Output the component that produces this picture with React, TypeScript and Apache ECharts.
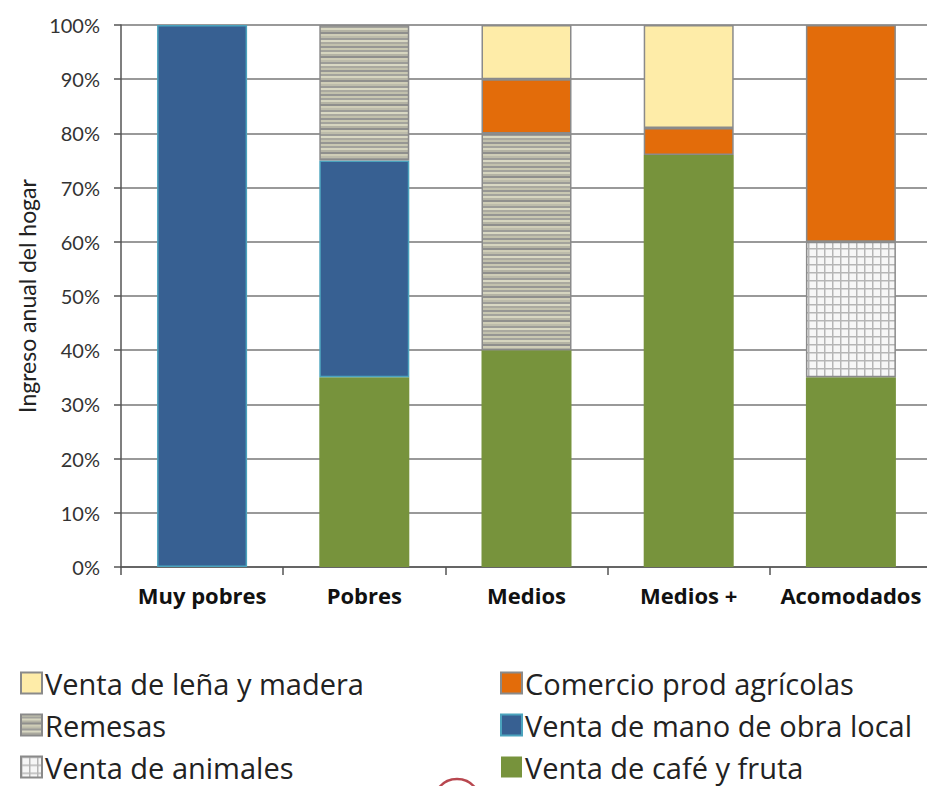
import React, { useEffect, useRef } from "react";
import * as echarts from "echarts";

const categories = ["Muy pobres", "Pobres", "Medios", "Medios +", "Acomodados"];
const cafe = [null, 35, 40, 76, 35];
const manoObra = [100, 40, null, null, null];
const animales = [null, null, null, null, 25];
const remesas = [null, 25, 40, null, null];
const comercio = [null, null, 10, 5, 40];
const lena = [null, null, 10, 19, null];
const yTicks = { min: 0, max: 100, interval: 10 };

const FONT = "Lato, 'Open Sans', sans-serif";
const WIDE = "'Open Sans', Lato, sans-serif";

function stripePattern(): HTMLCanvasElement {
  const rows = ["#c9c8b2", "#a3a39c", "#d6d5bf", "#b4b3a4", "#8f8f8d", "#cfcdb7", "#bdbcab", "#9c9c98", "#d9d8c3", "#aaa99f", "#c2c1ad", "#969693"];
  const c = document.createElement("canvas");
  c.width = 4;
  c.height = rows.length * 2;
  const ctx = c.getContext("2d")!;
  rows.forEach((col, i) => {
    ctx.fillStyle = col;
    ctx.fillRect(0, i * 2, 4, 2);
  });
  return c;
}

function gridPattern(): HTMLCanvasElement {
  const c = document.createElement("canvas");
  c.width = 8;
  c.height = 8;
  const ctx = c.getContext("2d")!;
  ctx.fillStyle = "#f6f6f6";
  ctx.fillRect(0, 0, 8, 8);
  ctx.fillStyle = "#b5b5b5";
  ctx.fillRect(0, 0, 8, 1.5);
  ctx.fillRect(0, 0, 1.5, 8);
  return c;
}

export default function App() {
  const ref = useRef<HTMLDivElement>(null);
  useEffect(() => {
    if (!ref.current) return;
    const chart = echarts.init(ref.current, null, { renderer: "svg" });
    const border = { borderColor: "#8a8a8a", borderWidth: 1.5 };
    const mk = (name: string, data: (number | null)[], itemStyle: any) => ({
      name,
      type: "bar",
      stack: "total",
      data,
      barWidth: 90,
      itemStyle,
    });
    const legendText = { fontFamily: WIDE, fontSize: 29, color: "#222", lineHeight: 30, padding: [0, 0, 0, -2] };
    chart.setOption({
      animation: false,
      textStyle: { fontFamily: FONT },
      grid: { left: 121, top: 25, width: 811, height: 542 },
      xAxis: {
        type: "category",
        data: categories,
        axisLine: { lineStyle: { color: "#555", width: 1.5 } },
        axisTick: { show: true, interval: 0, length: 8, lineStyle: { color: "#555", width: 1.5 } },
        axisLabel: { interval: 0, fontFamily: WIDE, fontWeight: "bold", fontSize: 22, color: "#111", margin: 17 },
      },
      yAxis: {
        type: "value",
        min: yTicks.min,
        max: yTicks.max,
        interval: yTicks.interval,
        name: "Ingreso anual del hogar",
        nameLocation: "middle",
        nameGap: 81,
        nameTextStyle: { fontFamily: FONT, fontSize: 23, color: "#222" },
        axisLine: { show: true, lineStyle: { color: "#555", width: 1.5 } },
        axisTick: { show: true, length: 7, lineStyle: { color: "#555", width: 1.5 } },
        axisLabel: { formatter: "{value}%", fontFamily: FONT, fontSize: 20, color: "#333", margin: 21 },
        splitLine: { show: true, lineStyle: { color: "#777", width: 1.5 } },
      },
      legend: [
        {
          orient: "vertical",
          left: 20,
          top: 668,
          padding: 0,
          itemGap: 12,
          itemWidth: 21,
          itemHeight: 21,
          icon: "rect",
          textStyle: legendText,
          data: ["Venta de leña y madera", "Remesas", "Venta de animales"],
        },
        {
          orient: "vertical",
          left: 500,
          top: 668,
          padding: 0,
          itemGap: 12,
          itemWidth: 21,
          itemHeight: 21,
          icon: "rect",
          textStyle: legendText,
          data: ["Comercio prod agrícolas", "Venta de mano de obra local", "Venta de café y fruta"],
        },
      ],
      graphic: [
        {
          type: "arc",
          shape: { cx: 457, cy: 802, r: 23, startAngle: -Math.PI * 0.82, endAngle: -Math.PI * 0.18 },
          style: { stroke: "#b8474f", lineWidth: 2.5, fill: "none" },
        },
      ],
      series: [
        mk("Venta de café y fruta", cafe, { color: "#77933c" }),
        mk("Venta de mano de obra local", manoObra, { color: "#376092", borderColor: "#4ba3bd", borderWidth: 1.5 }),
        mk("Venta de animales", animales, { color: { image: gridPattern(), repeat: "repeat" }, ...border }),
        mk("Remesas", remesas, { color: { image: stripePattern(), repeat: "repeat" }, ...border }),
        mk("Comercio prod agrícolas", comercio, { color: "#e36c0a", ...border }),
        mk("Venta de leña y madera", lena, { color: "#feeca8", ...border }),
      ],
    });
    return () => chart.dispose();
  }, []);
  return (
    <div style={{ position: "absolute", left: 0, top: 0, width: 927, height: 786, overflow: "hidden" }}>
      <div ref={ref} style={{ width: 945, height: 786 }} />
    </div>
  );
}
